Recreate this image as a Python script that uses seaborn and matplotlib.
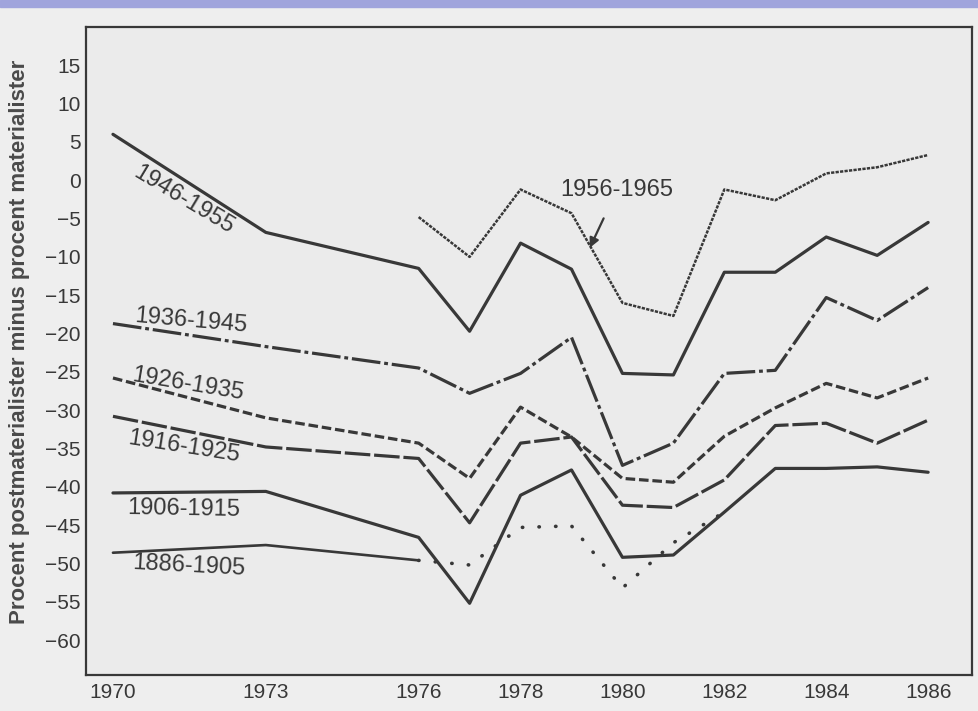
import numpy as np
import pandas as pd
import matplotlib
matplotlib.use("Agg")
import matplotlib.pyplot as plt
from matplotlib.patches import Rectangle
import seaborn as sns

# -------------------------------
# data
# -------------------------------
years = [1970, 1973, 1976, 1977, 1978, 1979, 1980, 1981, 1982, 1983, 1984, 1985, 1986]
c1946 = [6.0, -6.8, -11.5, -19.7, -8.2, -11.6, -25.2, -25.4, -12.0, -12.0, -7.4, -9.8, -5.5]
c1936 = [-18.7, -21.7, -24.5, -27.8, -25.2, -20.5, -37.2, -34.3, -25.2, -24.8, -15.3, -18.3, -14.0]
c1926 = [-25.8, -31.0, -34.3, -38.9, -29.6, -33.5, -38.9, -39.4, -33.4, -29.7, -26.5, -28.4, -25.8]
c1916 = [-30.8, -34.8, -36.3, -44.7, -34.3, -33.5, -42.4, -42.7, -39.1, -32.0, -31.7, -34.3, -31.3]
c1906 = [-40.8, -40.6, -46.6, -55.2, -41.1, -37.8, -49.2, -48.9, -43.3, -37.6, -37.6, -37.4, -38.1]

years_1956 = years[2:]
c1956 = [-4.8, -10.0, -1.2, -4.3, -16.0, -17.7, -1.2, -2.6, 0.9, 1.7, 3.3]

years_1886 = years[:9]
c1886 = [-48.6, -47.6, -49.6, -50.2, -45.3, -45.1, -53.2, -47.3, -43.3]

yticks = list(range(-60, 16, 5))
xlabeled = [1970, 1973, 1976, 1978, 1980, 1982, 1984, 1986]

ylabel = "Procent postmaterialister minus procent materialister"

# -------------------------------
# style
# -------------------------------
sns.set_theme(style="white")
plt.rcParams["font.family"] = ["Liberation Sans", "DejaVu Sans"]

ink = "#383838"
bg = "#ebebeb"

fig = plt.figure(figsize=(9.79, 7.11), dpi=100, facecolor="#eeeeee")
ax = fig.add_axes([0.0878, 0.0506, 0.905, 0.9114])
ax.set_facecolor(bg)

# scan's blue strip at the very top
fig.patches.append(Rectangle((0, 1 - 7 / 711), 1, 7 / 711, transform=fig.transFigure,
                             color="#a0a4dc", zorder=0))

lw = 2.3
sns.lineplot(x=years, y=c1946, ax=ax, color=ink, lw=lw, linestyle="-")
sns.lineplot(x=years, y=c1936, ax=ax, color=ink, lw=lw, linestyle=(0, (9, 1.2, 1.2, 1.2)))
sns.lineplot(x=years, y=c1926, ax=ax, color=ink, lw=lw, linestyle=(0, (3, 1.2)))
sns.lineplot(x=years, y=c1916, ax=ax, color=ink, lw=lw, linestyle=(0, (8, 1.2)))
sns.lineplot(x=years, y=c1906, ax=ax, color=ink, lw=lw, linestyle="-")
sns.lineplot(x=years_1956, y=c1956, ax=ax, color=ink, lw=1.8, linestyle=(0, (1.3, 0.5)))
# 1886-1905: solid first, then dotted
sns.lineplot(x=years_1886[:3], y=c1886[:3], ax=ax, color=ink, lw=1.9, linestyle="-")
sns.lineplot(x=years_1886[2:], y=c1886[2:], ax=ax, color=ink, lw=2.6,
             linestyle=(0, (0.1, 4.5)), dash_capstyle="round")

# cohort labels
lab = dict(color=ink, fontsize=17, ha="center", va="center", rotation_mode="anchor")
ax.text(1971.39, -2.6, "1946-1955", rotation=-31, **lab)
ax.text(1971.53, -18.3, "1936-1945", rotation=-5, **lab)
ax.text(1971.47, -26.6, "1926-1935", rotation=-9.5, **lab)
ax.text(1971.39, -34.8, "1916-1925", rotation=-9, **lab)
ax.text(1971.39, -42.9, "1906-1915", rotation=-1, **lab)
ax.text(1971.49, -50.3, "1886-1905", rotation=-3, **lab)
ax.annotate("1956-1965", xy=(1979.36, -8.8), xytext=(1979.89, -1.3),
            color=ink, fontsize=17, ha="center", va="center",
            arrowprops=dict(arrowstyle="-|>", color=ink, lw=1.6, mutation_scale=14,
                            shrinkA=11, shrinkB=0))

# axes
ax.set_xlim(1969.47, 1986.86)
ax.set_ylim(-64.56, 20.0)
ax.set_yticks(yticks)
ax.set_yticklabels([str(v).replace("-", "\u2212") for v in yticks])
ax.set_xticks(years)
ax.set_xticklabels([str(y) if y in xlabeled else "" for y in years])
ax.tick_params(axis="y", direction="in", length=11, width=1.6, color=ink,
               labelsize=15, labelcolor=ink, pad=4)
ax.tick_params(axis="x", direction="in", length=15, width=1.6, color=ink,
               labelsize=15, labelcolor=ink, pad=6)
for s in ax.spines.values():
    s.set_color(ink)
    s.set_linewidth(1.6)

ax.set_xlabel("")
ax.set_ylabel(ylabel, fontsize=16, fontweight="bold", color="#4a4a4a")
ax.yaxis.set_label_coords(-0.063, 0.514)

fig.savefig("out.png", dpi=100, facecolor=fig.get_facecolor())
